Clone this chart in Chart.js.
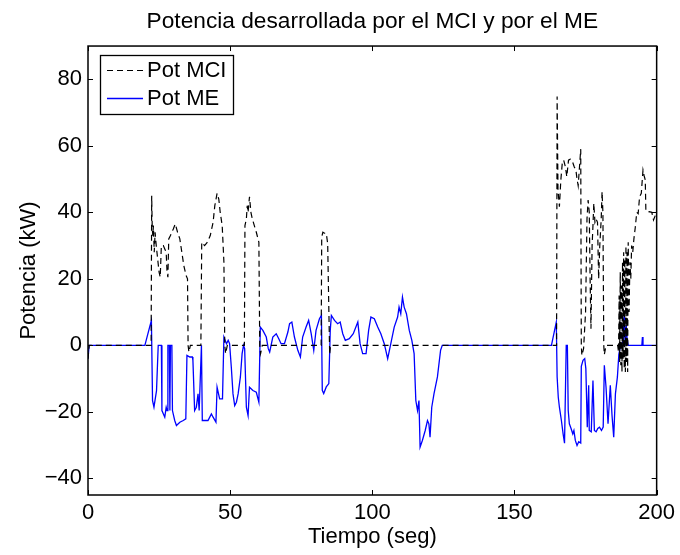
<!DOCTYPE html>
<html>
<head>
<meta charset="utf-8">
<script src="https://cdn.jsdelivr.net/npm/chart.js@4/dist/chart.umd.min.js"></script>
<style>
  html, body { margin: 0; padding: 0; background: #fff; }
  #wrap { width: 680px; height: 555px; }
</style>
</head>
<body>
<div id="wrap"><canvas id="c" width="680" height="555"></canvas></div>
<script>
// ---- Data ----
const chartTitle = 'Potencia desarrollada por el MCI y por el ME';
const xLabel = 'Tiempo (seg)';
const yLabel = 'Potencia (kW)';
const seriesNames = ['Pot MCI', 'Pot ME'];

const xTicks = [0, 50, 100, 150, 200];
const yTicks = [-40, -20, 0, 20, 40, 60, 80];

const mciTime = [0, 0.4, 22.2, 22.4, 22.6, 22.8, 23.0, 23.3, 23.6, 24.0, 24.5, 25.0, 25.4, 25.8, 26.5, 27.0, 27.5, 27.8, 28.1, 28.4, 29.0, 30.0, 30.7, 31.5, 32.3, 33.0, 33.7, 34.5, 35.0, 35.2, 35.5, 36.0,
  39.7, 40.0, 41.0, 42.0, 43.0, 44.0, 44.6, 45.4, 46.0, 46.5, 47.2, 47.8, 48.1, 48.4, 49.0,
  55.0, 55.2, 55.7, 56.0, 56.3, 56.8, 57.3, 57.8, 58.5, 59.2, 60.1, 60.4, 60.7, 61.3,
  82.0, 82.2, 82.6, 83.2, 83.8, 84.3, 84.7, 85.0, 85.3,
  164.8, 165.0, 165.3, 165.8, 166.3, 166.8, 167.3, 167.9, 168.4, 169.0, 169.6, 170.2, 171.0, 171.6, 172.0, 172.4, 173.3, 173.5, 173.7, 174.3, 175.0, 175.5, 175.9, 176.3, 176.6, 176.9, 177.3, 177.6, 177.9, 178.3, 178.7, 179.2, 179.6, 180.0, 180.5, 180.8, 181.1, 181.4, 181.6, 182.2,
  186.3, 186.6, 186.8, 187.0, 187.2, 187.4, 187.6, 187.8, 188.0, 188.2, 188.4, 188.6, 188.8, 189.0, 189.2, 189.4, 189.6, 189.8, 190.0, 190.3, 190.6, 190.9, 191.2, 191.6, 192.0, 192.5, 193.0, 193.5, 194.0, 194.6, 195.2, 195.6, 196.0, 196.2, 196.8, 197.4, 198.3, 198.9, 199.5, 200];
const mciPower = [-4, 0, 0, 45, 35, 33, 36, 28, 34, 30, 26, 22, 20.5, 30, 30, 29, 28, 22, 20.5, 32, 33, 35, 36.5, 34, 32, 28, 24, 21, 20, 0, -2, 0,
  0, 31, 30, 31, 33, 37, 42, 45.7, 44, 40, 36, 25, 0, -2.5, 0,
  0, 36, 38, 42, 40, 44.7, 40, 38, 36, 34, 31, 0, -2.5, 0,
  0, 32.6, 34, 33.7, 33.7, 30.6, 11, -2.8, 0,
  0, 74.8, 46.7, 41.7, 49.7, 54.7, 55.7, 53.7, 50.7, 55.7, 56, 55.7, 53.7, 52.7, 50, 48, 59, 0, -3, -1, 10, 38, 43.7, 40, 20, 5, 30, 36, 42.7, 37, 38, 37, 20, 30, 38, 46.2, 40, 0, -2.8, 0,
  0, -2, 15, -5, 22, -6, 18, -8, 25, -4, 28, -7, 26, -8, 30, -5, 28, -8, 31, 10, 25, 20, 30, 28, 32, 35.6, 40, 39.6, 44.7, 45.7, 52.7, 51, 49.7, 40.7, 40, 40.2, 40, 37.7, 39, 40];

const meTime = [0, 0.4, 20.0, 22.3, 22.7, 23.2, 24.1, 24.7, 25.8, 26.0, 27.0, 27.5, 27.8, 28.1, 28.6, 28.8, 29.0, 29.5, 29.7, 30.5, 31.1, 32.3, 33.5, 34.4, 34.8, 35.8, 36.7, 36.9, 37.5, 38.1, 38.7, 39.1, 39.9,
  40.2, 41.1, 42.2, 43.4, 44.0, 45.0, 45.4, 46.3, 47.3, 47.8, 48.7, 49.3, 49.8, 50.4, 51.0, 51.6, 52.2, 52.8, 53.6, 54.2, 54.7, 55.1, 55.7, 56.3, 56.8, 58.0, 59.2, 60.1, 60.6, 61.5, 62.7, 63.4, 63.9,
  65.0, 66.2, 67.1, 67.9, 69.1, 70.3, 70.9, 71.7, 72.6, 73.8, 74.7, 75.5, 76.7, 77.6, 78.5, 79.4, 80.2, 81.4, 82.1, 82.4, 82.9, 83.8, 84.7, 85.2, 85.6, 86.7, 87.8, 88.7, 89.6, 90.5, 91.9, 93.3, 94.9, 95.7, 96.6, 97.8, 98.7, 99.5,
  100.7, 101.9, 103.0, 104.2, 105.4, 106.5, 107.7, 108.9, 109.4, 110.0, 110.6, 111.2, 112.0, 113.0, 113.9, 114.7, 115.3, 115.9, 116.4, 116.8, 117.6, 118.6, 119.4, 119.9, 120.3, 120.9, 121.7, 122.9, 124.0, 124.6,
  163.0, 164.7, 165.0, 165.4, 165.8, 166.5, 167.1, 167.6, 168.2, 168.6, 168.9, 169.3, 169.9, 170.5, 170.9, 171.4, 172.0, 172.6, 173.3, 173.5, 174.1, 174.7, 175.1, 175.6, 176.1, 176.3, 177.0, 177.6, 178.1, 178.7, 179.3, 179.9, 180.6, 181.2, 181.6, 182.2, 182.9, 183.7, 184.3, 184.9, 185.5, 186.2, 186.7,
  187.3, 187.8, 188.2, 188.6, 188.9, 189.3, 189.6, 190.0, 194.8, 195.0, 195.2, 200];
const mePower = [-4, 0, 0, 7.5, -16.6, -18.6, -13.6, 0, 0, -19.6, -21.6, -18.6, -19.6, 0, 0, -19.6, 0, 0, -19.6, -22.6, -24.1, -23.1, -22.6, -22.1, -3.0, -3.5, -3.5, -4.5, -19.6, -18.6, -14.6, -19.6, 0,
  -22.6, -22.6, -22.6, -20.6, -21.6, -23.1, -12.6, -16.1, -16.1, 2.5, 0.5, 1.5, 0.5, -6.5, -14.6, -18.1, -17.1, -14.6, -9.5, -2.5, 0, -1, -18.6, -21.1, -12.6, -13.6, -14.1, -17.1, 5.5, 4.5, 2.5, -1, -2,
  2.5, 3.5, 2.0, 0.5, 0.5, 4.0, 6.5, 7.0, 2.5, -1.5, -3.5, 2.5, 5.5, 7.5, 3.5, -1.5, 4.5, 8.0, 9, -13.5, -14.5, -12.5, -11.5, 4.5, 9, 7.5, 6.5, 7, 3.5, 1.5, 2, 3.5, 7, 0.5, -2.5, -2.5, 4.5, 8.5,
  8, 5.5, 3.5, 0.5, -4, 0.5, 5.5, 8.5, 11.5, 9.5, 14.5, 11.5, 9.5, 4.5, 1.5, -2.5, -16.6, -19.6, -16.6, -30.6, -28.6, -25.6, -22.6, -23.6, -27.6, -18.6, -14.5, -9.5, -1.5, 0,
  0, 7, -9.5, -15.6, -18.6, -22.6, -26.6, -29.4, 0, 0, -19.6, -23.6, -25, -26.6, -25.6, -28.6, -30.1, -29, -29.4, -6.3, -4.5, -4, -7, -24.6, -12, -25.6, -26, -10.6, -25.6, -26, -25, -24.6, -25.6, -24.6, -6, -12.6, -23.6, -12, -21, -27.6, -14.6, -9.5, -2.8,
  0, 0.5, 1.5, 9.7, 0, 6, 2, 0, 0, 2.5, 0, 0];

// ---- Chart ----
const FONT = "'Liberation Sans', Arial, Helvetica, sans-serif";
const toXY = (xs, ys) => xs.map((x, i) => ({ x: x, y: ys[i] }));
const fmt = v => (v < 0 ? '\u2212' + Math.abs(v) : String(v));

const boxPlugin = {
  id: 'matlabBox',
  afterDraw(chart) {
    const { ctx, chartArea: a, scales } = chart;
    const xs = scales.x, ys = scales.y;
    ctx.save();
    ctx.strokeStyle = '#000';
    ctx.lineWidth = 1.5;
    ctx.setLineDash([]);
    ctx.strokeRect(a.left, a.top, a.right - a.left, a.bottom - a.top);
    ctx.lineWidth = 1;
    const tl = 5;
    ctx.beginPath();
    xTicks.forEach(v => {
      const px = Math.round(xs.getPixelForValue(v)) + 0.5;
      ctx.moveTo(px, a.bottom); ctx.lineTo(px, a.bottom - tl);
      ctx.moveTo(px, a.top); ctx.lineTo(px, a.top + tl);
    });
    yTicks.forEach(v => {
      const py = Math.round(ys.getPixelForValue(v)) + 0.5;
      ctx.moveTo(a.left, py); ctx.lineTo(a.left + tl, py);
      ctx.moveTo(a.right, py); ctx.lineTo(a.right - tl, py);
    });
    ctx.stroke();

    // legend box
    const lx = 100, ly = 55, lw = 133, lh = 59;
    ctx.fillStyle = '#fff';
    ctx.fillRect(lx, ly, lw, lh);
    ctx.lineWidth = 1.3;
    ctx.strokeStyle = '#000';
    ctx.strokeRect(lx + 0.5, ly + 0.5, lw, lh);
    const rows = [71, 99];
    chart.data.datasets.forEach((ds, i) => {
      const y = rows[i];
      ctx.beginPath();
      ctx.strokeStyle = ds.borderColor;
      ctx.lineWidth = ds.borderWidth;
      ctx.setLineDash(ds.borderDash || []);
      ctx.moveTo(107, y - 0.5); ctx.lineTo(143, y - 0.5);
      ctx.stroke();
      ctx.setLineDash([]);
      ctx.fillStyle = '#000';
      ctx.font = '22px ' + FONT;
      ctx.textAlign = 'left';
      ctx.textBaseline = 'middle';
      ctx.fillText(ds.label, 147, y);
    });
    ctx.restore();
  }
};

new Chart(document.getElementById('c'), {
  type: 'line',
  data: {
    datasets: [
      { label: seriesNames[0], data: toXY(mciTime, mciPower), borderColor: '#000000', borderWidth: 1.2, borderDash: [6, 4], pointRadius: 0, tension: 0, fill: false },
      { label: seriesNames[1], data: toXY(meTime, mePower), borderColor: '#0000ff', borderWidth: 1.3, pointRadius: 0, tension: 0, fill: false }
    ]
  },
  options: {
    responsive: false,
    animation: false,
    devicePixelRatio: 1,
    layout: { padding: { left: 0, right: 22, top: 0, bottom: 0 } },
    plugins: {
      legend: { display: false },
      tooltip: { enabled: false },
      title: {
        display: true, text: chartTitle, fullSize: false, color: '#000',
        font: { family: FONT, size: 22.7, weight: 'normal', lineHeight: 1.2 },
        padding: { top: 7.8, bottom: 11 }
      }
    },
    scales: {
      x: {
        type: 'linear', min: 0, max: 200,
        grid: { display: false, drawTicks: false },
        border: { display: false },
        afterBuildTicks: s => { s.ticks = xTicks.map(v => ({ value: v })); },
        afterFit: s => { s.height = 60; },
        ticks: { color: '#000', padding: 5, maxRotation: 0, autoSkip: false, font: { family: FONT, size: 22 }, callback: v => fmt(v) },
        title: { display: true, text: xLabel, color: '#000', font: { family: FONT, size: 22, lineHeight: 1.2 }, padding: { top: 0, bottom: 4.8 } }
      },
      y: {
        type: 'linear', min: -45, max: 90,
        grid: { display: false, drawTicks: false },
        border: { display: false },
        afterBuildTicks: s => { s.ticks = yTicks.map(v => ({ value: v })); },
        afterFit: s => { s.width = 88; },
        ticks: { color: '#000', padding: 6, autoSkip: false, font: { family: FONT, size: 22 }, callback: v => fmt(v) },
        title: { display: true, text: yLabel, color: '#000', font: { family: FONT, size: 22, lineHeight: 1.2 }, padding: { top: 15.3, bottom: 0 } }
      }
    }
  },
  plugins: [boxPlugin]
});
</script>
</body>
</html>
